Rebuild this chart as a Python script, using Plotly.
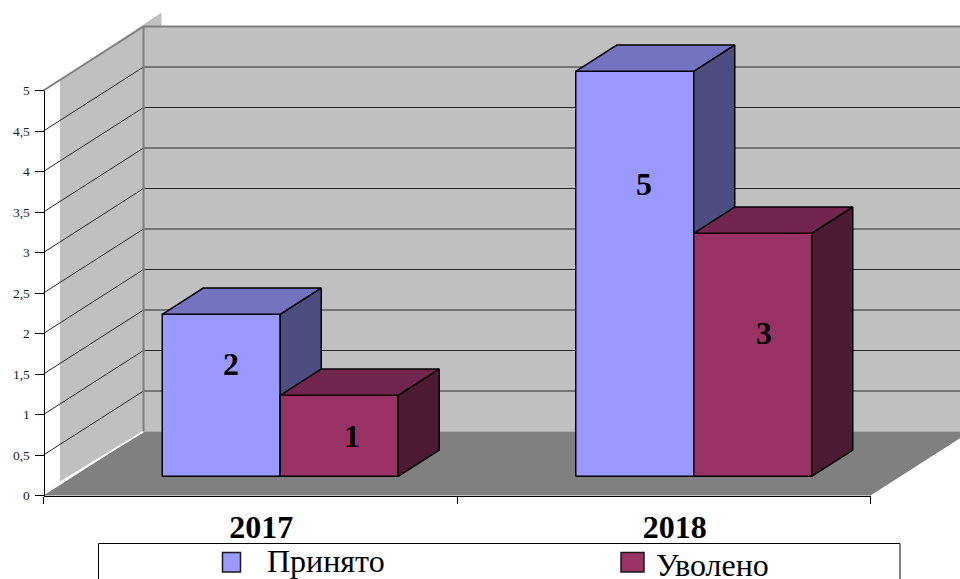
import plotly.graph_objects as go

# Chart data
categories = ["2017", "2018"]
hired = [2, 5]
dismissed = [1, 3]
value_ticks = [0, 0.5, 1, 1.5, 2, 2.5, 3, 3.5, 4, 4.5, 5]
value_tick_labels = ["0", "0,5", "1", "1,5", "2", "2,5", "3", "3,5", "4", "4,5", "5"]
series_names = ["Принято", "Уволено"]

# Canvas and pseudo-3D projection (oblique box, depth 0 = front, 1 = back wall)
W, H = 960, 579
ORIGIN_X, ORIGIN_Y = 43.5, 495.5
CAT_PX, UNIT_PX = 413.5, 81
DEPTH_DX, DEPTH_DY = 100, 64
BAR_W = 118 / CAT_PX
BAR_FRONT, BAR_BACK = 0.30, 0.71


def project(cat, value, depth=0.0):
    return cat + depth * DEPTH_DX / CAT_PX, value + depth * DEPTH_DY / UNIT_PX


def poly(corners, fill, line_color="black", line_width=1.5, name=None):
    pts = [project(*c) for c in corners]
    pts.append(pts[0])
    return go.Scatter(
        x=[p[0] for p in pts], y=[p[1] for p in pts], mode="lines", fill="toself",
        fillcolor=fill, line=dict(color=line_color, width=line_width),
        hoverinfo="skip" if name is None else "name", name=name or "", showlegend=False,
    )


def segments(pairs, color, width):
    xs, ys = [], []
    for a, b in pairs:
        pa, pb = project(*a), project(*b)
        xs += [pa[0], pb[0], None]
        ys += [pa[1], pb[1], None]
    return go.Scatter(x=xs, y=ys, mode="lines", line=dict(color=color, width=width),
                      hoverinfo="skip", showlegend=False)


def box(left, value, fills, name):
    right = left + BAR_W
    front, top, side = fills
    return [
        poly([(left, 0, BAR_FRONT), (right, 0, BAR_FRONT), (right, value, BAR_FRONT), (left, value, BAR_FRONT)], front, name=name),
        poly([(left, value, BAR_FRONT), (right, value, BAR_FRONT), (right, value, BAR_BACK), (left, value, BAR_BACK)], top, name=name),
        poly([(right, 0, BAR_FRONT), (right, 0, BAR_BACK), (right, value, BAR_BACK), (right, value, BAR_FRONT)], side, name=name),
    ]


WALL = "#C0C0C0"
FLOOR = "#808080"
EDGE = "#7F7F7F"
BLUE = ("#9999FF", "#7373BF", "#4D4D80")
WINE = ("#993366", "#73264D", "#4D1A33")

fig = go.Figure()

# Walls and floor
fig.add_trace(poly([(0, 5.0, 0.165), (0, 5.03, 1.18), (0, 0, 1.18), (0, 0.03, 0.165)], WALL, WALL, 0))
fig.add_trace(poly([(0, 0, 1), (3, 0, 1), (3, 5, 1), (0, 5, 1)], WALL, WALL, 0))
fig.add_trace(poly([(0, 0, 0), (2, 0, 0), (2, 0, 1), (3, 0, 1), (0, 0, 1)], FLOOR, FLOOR, 0))
fig.add_trace(segments([((0, 0.03, 0.165), (0, 0, 1))], "white", 1.5))

# Gridlines across the side wall and back wall
grid_levels = value_ticks[1:-1]
grid_pairs = [((0, v, 0), (0, v, 1)) for v in grid_levels] + [((0, v, 1), (3, v, 1)) for v in grid_levels]
fig.add_trace(segments(grid_pairs, "#262626", 1))
fig.add_trace(segments([((0, 5, 0), (0, 5, 1)), ((0, 5, 1), (3, 5, 1)), ((0, 0, 1), (0, 5, 1))], EDGE, 2))

# Bars, drawn left to right so later boxes overlap earlier ones
label_shift = {(0, 0): (10, 31), (0, 1): (13, 0), (1, 0): (9, 90), (1, 1): (11, 22)}
annotations = []
for i in range(len(categories)):
    left = i + 0.5 - BAR_W
    for s, (values, fills) in enumerate([(hired, BLUE), (dismissed, WINE)]):
        x0 = left + s * BAR_W
        for t in box(x0, values[i], fills, series_names[s]):
            fig.add_trace(t)
        cx, cy = project(x0 + BAR_W / 2, values[i] / 2, BAR_FRONT)
        sx, sy = label_shift[(i, s)]
        annotations.append(dict(
            x=cx, y=cy, xref="x", yref="y", text=f"<b>{values[i]}</b>", showarrow=False,
            xshift=sx, yshift=sy, font=dict(family="Liberation Serif", size=32, color="black"),
        ))

# Carrier for the visible axes
fig.add_trace(go.Scatter(x=[None], y=[None], xaxis="x2", yaxis="y2", showlegend=False, hoverinfo="skip"))


def px(x):
    return x / W


def py(y):
    return 1 - y / H


# Legend box, swatches and text
shapes = [
    dict(type="rect", xref="paper", yref="paper", x0=px(98.5), x1=px(900), y0=py(543.5), y1=py(590),
         line=dict(color="black", width=1), fillcolor="white", layer="above"),
    dict(type="rect", xref="paper", yref="paper", x0=px(222.5), x1=px(240.5), y0=py(552.5), y1=py(572),
         line=dict(color="#1a1a1a", width=1.5), fillcolor=BLUE[0], layer="above"),
    dict(type="rect", xref="paper", yref="paper", x0=px(621), x1=px(644), y0=py(552.5), y1=py(572),
         line=dict(color="#1a1a1a", width=1.5), fillcolor=WINE[0], layer="above"),
]
for text, x, y in [(series_names[0], 265, 561), (series_names[1], 654, 565)]:
    annotations.append(dict(
        x=px(x), y=py(y), xref="paper", yref="paper", xanchor="left", yanchor="middle",
        text=text, showarrow=False, font=dict(family="Liberation Serif", size=32, color="black"),
    ))

fig.update_layout(
    width=W, height=H, margin=dict(l=0, r=0, t=0, b=0), autosize=False,
    paper_bgcolor="white", plot_bgcolor="rgba(0,0,0,0)", showlegend=False,
    shapes=shapes, annotations=annotations,
    xaxis=dict(domain=[0, 1], range=[-ORIGIN_X / CAT_PX, (W - ORIGIN_X) / CAT_PX], visible=False, automargin=False),
    yaxis=dict(domain=[0, 1], range=[(ORIGIN_Y - H) / UNIT_PX, ORIGIN_Y / UNIT_PX], visible=False, automargin=False),
    xaxis2=dict(
        domain=[px(ORIGIN_X), px(ORIGIN_X + 2 * CAT_PX)], range=[0, 2], automargin=False,
        anchor="free", position=py(ORIGIN_Y), showgrid=False, zeroline=False,
        showline=True, linecolor="black", linewidth=1,
        tickmode="array", tickvals=[0.5, 1.5], ticktext=categories, ticks="",
        ticklabelshift=11, ticklabelstandoff=3,
        tickfont=dict(family="Liberation Serif", size=32, color="black", weight="bold"),
        minor=dict(tickmode="array", tickvals=[0, 1, 2], ticks="outside", ticklen=7,
                   tickcolor="black", tickwidth=1, showgrid=False),
    ),
    yaxis2=dict(
        domain=[py(ORIGIN_Y), py(ORIGIN_Y - 5 * UNIT_PX)], range=[0, 5], automargin=False,
        anchor="free", position=px(ORIGIN_X), side="left", showgrid=False, zeroline=False,
        showline=True, linecolor="black", linewidth=1,
        tickmode="array", tickvals=value_ticks, ticktext=value_tick_labels,
        ticks="outside", ticklen=9, ticklabelstandoff=2, tickcolor="black", tickwidth=1,
        tickfont=dict(family="Liberation Serif", size=13.5, color="#1a1a1a"),
    ),
)

fig.write_html("out.html", config=dict(displayModeBar=False))
